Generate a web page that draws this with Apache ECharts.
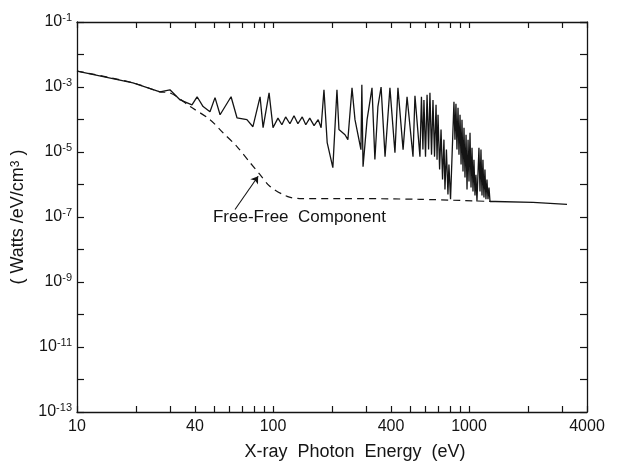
<!DOCTYPE html>
<html>
<head>
<meta charset="utf-8">
<script src="https://cdn.jsdelivr.net/npm/echarts@6/dist/echarts.min.js"></script>
<style>
  html, body { margin: 0; background: #fff; }
  #chart { width: 617px; height: 466px; }
</style>
</head>
<body>
<div id="chart"></div>
<script>
// total emission, photon energy (eV) vs Watts/eV/cm^3
const totalEnergy = [10, 19.3, 26.5, 29.8, 33.6, 38.6, 41, 44, 47.7, 50.6, 53.7, 61.1, 65.5, 73.6, 79, 85.9, 89, 95.5, 100,
  106, 111, 116, 122, 128, 134, 141, 147, 154, 162, 170, 176, 182, 189, 202, 212, 217, 233, 241, 253, 262, 281, 284, 288,
  302, 320, 331, 343, 356, 373, 395, 419, 434, 461, 483, 518, 530, 562, 572, 582, 589, 600, 611, 622, 632, 644, 655, 667,
  679, 687, 695, 708, 720, 733, 745, 754, 767, 781, 790, 805, 819, 838, 848, 858, 868, 879, 889, 900, 911, 921, 932, 943,
  954, 966, 977, 989, 1000, 1012, 1024, 1036, 1048, 1060, 1073, 1085, 1098, 1124, 1138, 1151, 1165, 1178, 1192, 1206,
  1220, 1235, 1250, 1265, 1280, 1358, 2123, 3162]
const totalPower = [3.1e-3, 1.35e-3, 7.1e-4, 8.2e-4, 4.0e-4, 2.8e-4, 5.0e-4, 2.5e-4, 1.73e-4, 4.7e-4, 1.4e-4, 5.0e-4,
  1.13e-4, 9.9e-5, 6.0e-5, 5.0e-4, 5.6e-5, 6.6e-4, 5.6e-5,
  1.1e-4, 6.9e-5, 1.2e-4, 7.4e-5, 1.3e-4, 7.4e-5, 1.2e-4, 6.9e-5, 1.1e-4, 6.5e-5, 9.9e-5, 5.6e-5, 8.2e-4, 1.95e-5,
  3.3e-6, 8.2e-4, 4.9e-5, 3.4e-5, 2.4e-5, 9.4e-4, 9.9e-5, 1.18e-5, 1.17e-3, 3.5e-6,
  9.9e-5, 9.4e-4, 5.9e-6, 2.5e-4, 1.0e-3, 7.2e-6, 9.4e-4, 9.5e-6, 9.4e-4, 1.18e-5, 5.0e-4, 7.2e-6, 5.4e-4, 7.2e-6,
  5.0e-4, 1.19e-5, 4.0e-4, 7.2e-6, 5.8e-4, 1.19e-5, 6.6e-4, 8.3e-6, 4.0e-4, 7.2e-6,
  2.84e-4, 5.8e-6, 1.4e-4, 2.9e-6, 4.9e-5, 1.42e-6, 2.4e-5, 7.0e-7, 1.19e-5, 4.9e-7, 4.1e-6, 3.5e-7, 3.5e-7, 3.5e-4,
  2.4e-5, 3.05e-4, 1.19e-5, 2.3e-4, 8.3e-6, 1.4e-4, 4.1e-6, 9.9e-5, 2.5e-6, 5.6e-5,
  1.64e-6, 3.4e-5, 7.0e-7, 2.4e-5, 1.24e-6, 3.9e-5, 8.1e-7, 1.36e-5, 6.1e-7, 5.8e-6, 4.6e-7, 2.0e-6, 3.0e-7, 1.36e-5,
  6.1e-7, 1.19e-5, 4.6e-7, 5.8e-6, 4.0e-7, 2.9e-6,
  3.5e-7, 1.42e-6, 3.5e-7, 8.1e-7, 3.0e-7, 3.0e-7, 2.8e-7, 2.45e-7]

// free-free component (dashed)
const freeEnergy = [10, 19.3, 26.5, 29.8, 37.8, 47.7, 55.6, 65.5, 76.4, 85.9, 96.6, 118, 137, 220, 562, 1300]
const freePower = [3.1e-3, 1.35e-3, 7.1e-4, 6.6e-4, 2.5e-4, 9.9e-5, 3.9e-5, 1.47e-5, 4.7e-6, 2.0e-6, 8.7e-7, 4.3e-7,
  3.7e-7, 3.7e-7, 3.5e-7, 3.0e-7]

const xLabelValues = [10, 40, 100, 400, 1000, 4000]
const xTickValues = [10, 20, 30, 40, 50, 60, 70, 80, 90, 100, 200, 300, 400, 500, 600, 700, 800, 900, 1000, 2000, 3000, 4000]
const yLabelExps = [-1, -3, -5, -7, -9, -11, -13]

const ink = '#141414'
const font = 'Liberation Sans'

function pairs (xs, ys) {
  return xs.map((x, i) => [x, ys[i]])
}

const chart = echarts.init(document.getElementById('chart'))

const axisLineStyle = { color: ink, width: 1.3 }

const option = {
  backgroundColor: '#fff',
  animation: false,
  grid: { left: 77, right: 30, top: 22, bottom: 53, containLabel: false },
  xAxis: [{
    type: 'log',
    logBase: 10,
    min: 10,
    max: 4000,
    name: 'X-ray  Photon  Energy  (eV)',
    nameLocation: 'middle',
    nameGap: 31,
    nameTextStyle: { color: ink, fontSize: 18, fontFamily: font, padding: [0, 0, 0, 46] },
    axisLine: { lineStyle: axisLineStyle },
    axisTick: { inside: true, length: 6, customValues: xTickValues, lineStyle: { color: ink, width: 1.2 } },
    axisLabel: {
      customValues: xLabelValues,
      formatter: function (v) { return String(Math.round(v)) },
      color: ink, fontSize: 16, fontFamily: font, margin: 7
    },
    splitLine: { show: false }
  }, {
    type: 'log',
    logBase: 10,
    min: 10,
    max: 4000,
    position: 'top',
    axisLine: { lineStyle: axisLineStyle },
    axisTick: { inside: true, length: 6, customValues: xTickValues, lineStyle: { color: ink, width: 1.2 } },
    axisLabel: { show: false },
    splitLine: { show: false }
  }],
  yAxis: [{
    type: 'log',
    logBase: 10,
    min: 1e-13,
    max: 1e-1,
    interval: 1,
    name: '( Watts /eV/cm{s|3} )',
    nameLocation: 'middle',
    nameRotate: 90,
    nameGap: 41,
    nameTextStyle: {
      color: ink, fontSize: 18, fontFamily: font,
      rich: { s: { fontSize: 12, fontFamily: font, color: ink, verticalAlign: 'top' } }
    },
    axisLine: { lineStyle: axisLineStyle },
    axisTick: { inside: true, length: 7, lineStyle: { color: ink, width: 1.2 } },
    axisLabel: {
      color: ink,
      margin: 5,
      formatter: function (v) {
        const e = Math.round(Math.log10(v))
        if (yLabelExps.indexOf(e) < 0) return ''
        return '{b|10}{s|' + e + '}'
      },
      rich: {
        b: { fontSize: 16, fontFamily: font, color: ink, lineHeight: 20 },
        s: { fontSize: 11, fontFamily: font, color: ink, verticalAlign: 'top', lineHeight: 11 }
      }
    },
    splitLine: { show: false }
  }, {
    type: 'log',
    logBase: 10,
    min: 1e-13,
    max: 1e-1,
    interval: 1,
    position: 'right',
    axisLine: { lineStyle: axisLineStyle },
    axisTick: { inside: true, length: 7, lineStyle: { color: ink, width: 1.2 } },
    axisLabel: { show: false },
    splitLine: { show: false }
  }],
  series: [{
    type: 'line',
    data: pairs(totalEnergy, totalPower),
    showSymbol: false,
    lineStyle: { color: ink, width: 1.3 },
    z: 3
  }, {
    type: 'line',
    data: pairs(freeEnergy, freePower),
    showSymbol: false,
    smooth: 0.3,
    lineStyle: { color: ink, width: 1.2, type: [7, 5] },
    z: 2,
    markLine: {
      silent: true,
      symbol: ['none', 'arrow'],
      symbolSize: 7,
      lineStyle: { color: ink, width: 1.1, type: 'solid' },
      label: { show: false },
      data: [[{ coord: [64, 1.7e-7] }, { coord: [84, 1.8e-6] }]]
    },
    markPoint: {
      silent: true,
      symbolSize: 0,
      label: {
        show: true,
        position: 'right',
        distance: 0,
        formatter: 'Free-Free  Component',
        color: ink,
        fontSize: 17,
        fontFamily: font
      },
      data: [{ coord: [49.4, 9.8e-8] }]
    }
  }]
}

chart.setOption(option)
</script>
</body>
</html>
